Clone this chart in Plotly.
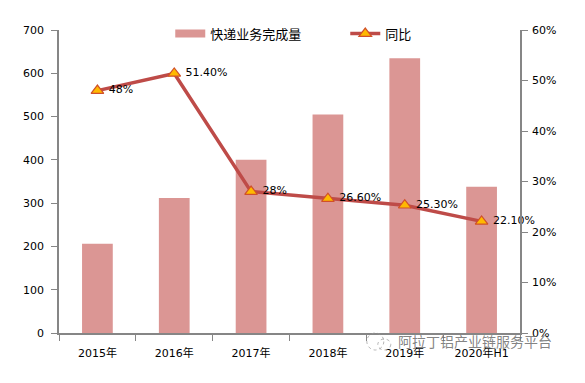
import plotly.graph_objects as go

categories = ["2015年", "2016年", "2017年", "2018年", "2019年", "2020年H1"]
volume = [206, 312, 400, 505, 635, 338]
yoy = [48, 51.4, 28, 26.6, 25.3, 22.1]
yoy_labels = [" 48%", " 51.40%", " 28%", " 26.60%", " 25.30%", " 22.10%"]
left_ticks = [0, 100, 200, 300, 400, 500, 600, 700]
right_ticks = [0, 10, 20, 30, 40, 50, 60]
right_tick_labels = ["0%", "10%", "20%", "30%", "40%", "50%", "60%"]

FONT = "DejaVu Sans, Noto Sans CJK SC, sans-serif"
AXIS = "#868686"
# The page adds an 8 px body margin, so the figure is laid out 8 px up and left.
W, H = 569, 367
L, T, PW, PH = 50.5, 22, 462, 303


def px(x):
    return (x - 8 - L) / PW


def py(y):
    return (T + PH - (y - 8)) / PH


fig = go.Figure()
fig.add_trace(go.Bar(x=categories, y=volume, name="快递业务完成量", showlegend=False,
                     marker=dict(color="#DB9694", line_width=0), width=0.4))
# Legend entry with the wide flat swatch of the reference
fig.add_trace(go.Scatter(x=[None], y=[None], name="快递业务完成量", mode="lines",
                         line=dict(color="#DB9694", width=8)))
fig.add_trace(go.Scatter(x=categories, y=yoy, name="同比", yaxis="y2",
                         mode="lines+markers+text", text=yoy_labels,
                         textposition="middle right", cliponaxis=False,
                         textfont=dict(size=11, color="black", family=FONT),
                         line=dict(color="#BE4B48", width=3.5),
                         marker=dict(symbol="triangle-up", size=11, color="#FFB900",
                                     line=dict(color="#D0502A", width=1.2))))

fig.update_layout(
    width=W, height=H, autosize=False,
    margin=dict(l=L, r=W - L - PW, t=T, b=H - T - PH, autoexpand=False),
    paper_bgcolor="white", plot_bgcolor="white",
    font=dict(family=FONT, size=11, color="black"),
    showlegend=True,
    legend=dict(orientation="h", x=(162 - L) / PW, y=0.988, xanchor="left", yanchor="middle",
                bgcolor="rgba(0,0,0,0)", font=dict(size=13), itemwidth=30,
                entrywidth=130, entrywidthmode="pixels", traceorder="normal"),
    xaxis=dict(type="category", tickson="boundaries", ticks="outside", ticklen=6,
               tickcolor=AXIS, showline=True, linecolor=AXIS, linewidth=1.5,
               showgrid=False, tickfont=dict(size=11), range=[-0.5, 5.5],
               ticklabelstandoff=9),
    yaxis=dict(range=[0, 700], tickvals=left_ticks, ticks="outside", ticklen=6,
               tickcolor=AXIS, showline=True, linecolor=AXIS, linewidth=1.5,
               showgrid=False, zeroline=False, tickfont=dict(size=11),
               ticklabelstandoff=5),
    yaxis2=dict(range=[0, 60], tickvals=right_ticks, ticktext=right_tick_labels,
                overlaying="y", side="right", ticks="outside", ticklen=6,
                tickcolor=AXIS, showline=True, linecolor=AXIS, linewidth=1.5,
                showgrid=False, zeroline=False, tickfont=dict(size=11),
                ticklabelstandoff=2),
    bargap=0.6,
)

# Watermark: text and faint logo outline
fig.add_annotation(text="阿拉丁铝产业链服务平台", xref="paper", yref="paper",
                   x=px(475), y=py(342), showarrow=False,
                   xanchor="center", yanchor="middle",
                   font=dict(size=14, color="rgba(110,110,110,0.85)"))
for x0, x1, y0, y1 in [(367, 384, 333, 350), (378, 391, 339, 350)]:
    fig.add_shape(type="circle", xref="paper", yref="paper",
                  x0=px(x0), x1=px(x1), y0=py(y1), y1=py(y0),
                  line=dict(color="rgba(150,150,150,0.7)", width=1, dash="dot"))
fig.write_html("out.html")
